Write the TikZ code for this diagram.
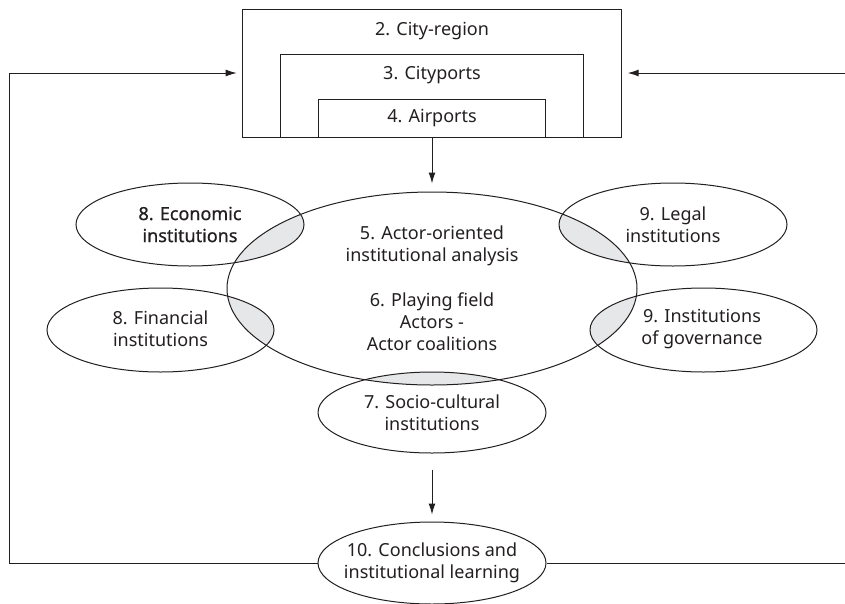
\documentclass[tikz,border=0pt]{standalone}
\usepackage{fontspec}
\setmainfont{Noto Sans}
\newfontfamily\medfont[FakeBold=0.8]{Noto Sans}
\usetikzlibrary{shapes.geometric,arrows.meta}
\definecolor{ink}{HTML}{231F20}
\definecolor{lapgray}{HTML}{E6E7E8}
\begin{document}
\begin{tikzpicture}[x=1pt,y=-1pt,
  every node/.style={font=\fontsize{18}{22}\selectfont, text=ink},
  oval/.style={ellipse, draw=ink, line width=1pt, inner sep=0pt},
  frame/.style={draw=ink, line width=1pt, inner sep=0pt},
  link/.style={draw=ink, line width=1pt},
  arr/.style={link, -{Latex[length=11pt,width=7pt]}},
  lbl/.style={align=center, inner sep=0pt},
  lap/.style={fill=lapgray, draw=none}]
\useasboundingbox (0,0) rectangle (845,603);

% shaded overlaps
\begin{scope}
  \clip (432,288.5) ellipse [x radius=205, y radius=96.5];
  \path[lap] (190,224.5) ellipse [x radius=114, y radius=41.5]
             (160.5,330) ellipse [x radius=113.5, y radius=42]
             (673,224.5) ellipse [x radius=114, y radius=41.5]
             (703.5,330) ellipse [x radius=113.5, y radius=42]
             (432,412.5) ellipse [x radius=114, y radius=40.5];
\end{scope}

% nested boxes
\node[frame, minimum width=378.3, minimum height=128] (cityregion) at (432,73) {};
\node[frame, minimum width=302.3, minimum height=83] (cityports) at (432,95.5) {};
\node[frame, minimum width=227, minimum height=38] (airports) at (432,118) {4. Airports};
\node[lbl] (t2) at (432,31) {2. City-region};
\node[lbl] (t3) at (432,75) {3. Cityports};

% ellipses
\node[oval, minimum width=410, minimum height=193] (main) at (432,288.5) {};
\node[lbl] (tmain) at (432,288.5) {5. Actor-oriented\\institutional analysis\\[23pt]6. Playing field\\Actors -\\Actor coalitions};

\node[oval, minimum width=228, minimum height=83] (econ) at (190,224.5) {};
\node[lbl, font=\medfont\fontsize{18}{22}\selectfont] (tecon) at (190,224.5) {8. Economic\\institutions};

\node[oval, minimum width=227, minimum height=84] (fin) at (160.5,330) {};
\node[lbl] (tfin) at (160.5,329) {8. Financial\\institutions};

\node[oval, minimum width=228, minimum height=83] (legal) at (673,224.5) {};
\node[lbl] (tlegal) at (673,224.5) {9. Legal\\institutions};

\node[oval, minimum width=227, minimum height=84] (gov) at (703.5,330) {};
\node[lbl] (tgov) at (702,329) {9. Institutions\\of governance};

\node[oval, minimum width=228, minimum height=81] (socio) at (432,412.5) {};
\node[lbl] (tsocio) at (432,412.5) {7. Socio-cultural\\institutions};

\node[oval, minimum width=228, minimum height=82] (conc) at (432,563) {};
\node[lbl] (tconc) at (432,563) {10. Conclusions and\\institutional learning};

% connectors
\draw[arr, shorten >=8pt] (cityregion.south) -- (main.north);
\draw[arr, shorten <=16pt, shorten >=7pt] (socio.south) -- (conc.north);

\coordinate (lb) at (9.5,563);
\coordinate (lt) at (9.5,73);
\draw[arr, shorten >=5.7pt] (conc.west) -- (lb) -- (lt) -- (cityregion.west);

\coordinate (rb) at (845,563);
\coordinate (rt) at (845,73);
\draw[link] (conc.east) -- (rb);
\draw[arr, shorten >=6pt] (rt) -- (cityregion.east);
\end{tikzpicture}
\end{document}
